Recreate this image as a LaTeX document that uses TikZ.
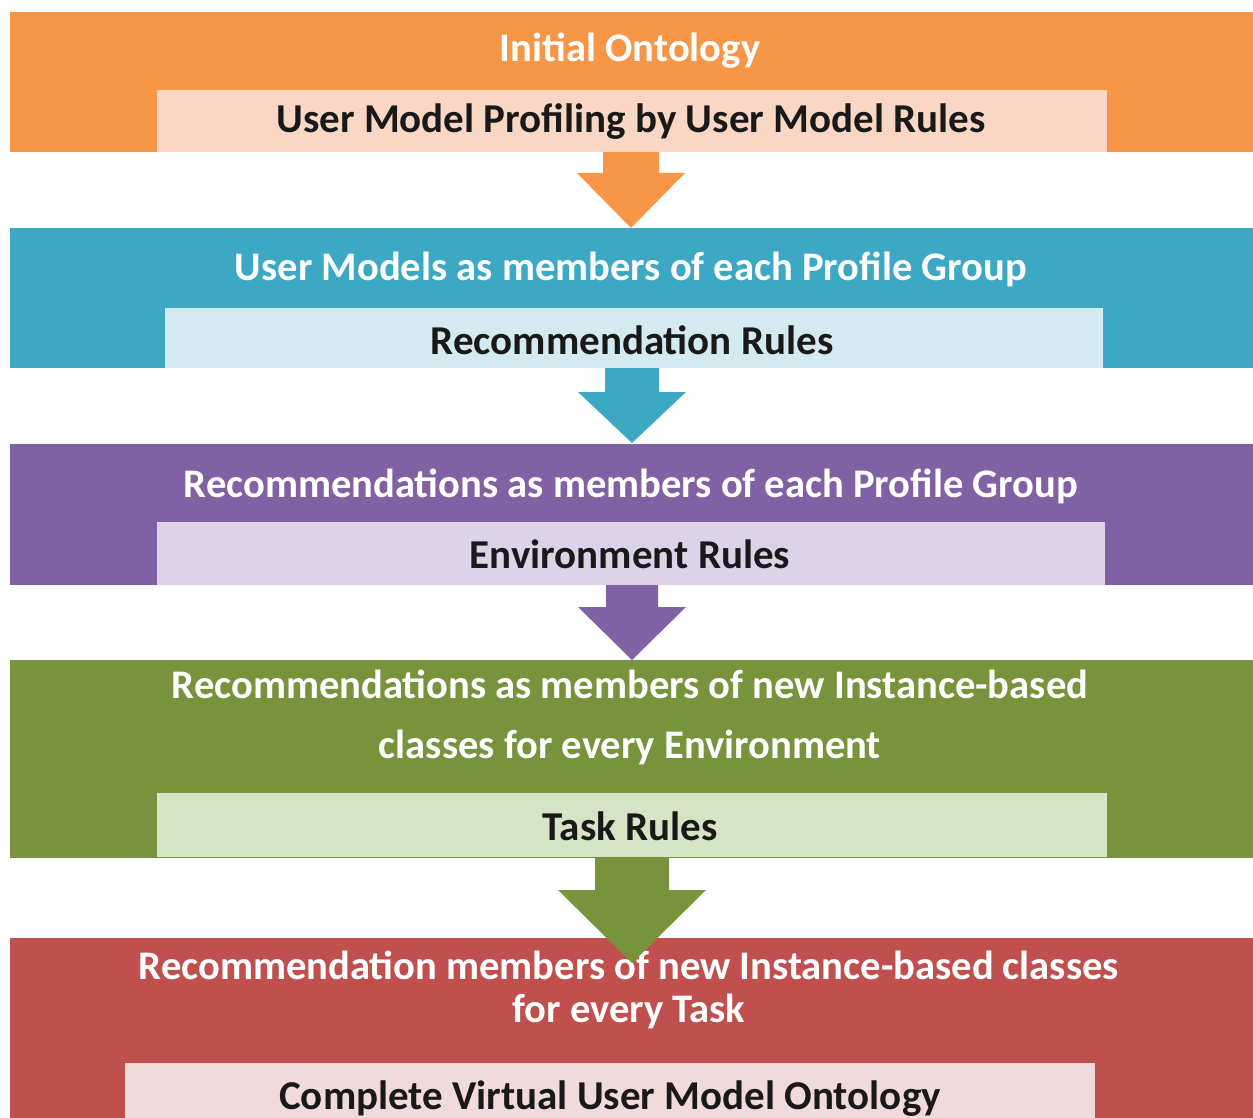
\documentclass[tikz,border=0pt]{standalone}
\usepackage{fontspec}
\setmainfont{Carlito}
\definecolor{corange}{HTML}{F79646}
\definecolor{corangeL}{HTML}{FAD7C4}
\definecolor{cteal}{HTML}{3CA8C4}
\definecolor{ctealL}{HTML}{D3EAF0}
\definecolor{cpurple}{HTML}{8062A4}
\definecolor{cpurpleL}{HTML}{DCD3E8}
\definecolor{cgreen}{HTML}{77933C}
\definecolor{cgreenL}{HTML}{D6E4C6}
\definecolor{cred}{HTML}{C0504D}
\definecolor{credL}{HTML}{F1DADA}
\tikzset{
  bandbox/.style={rectangle, anchor=north west, inner sep=0pt, outer sep=0pt, draw=none},
  titletext/.style={text=white, font=\bfseries\fontsize{40.6}{60}\selectfont, align=center, inner sep=0pt},
  innertext/.style={text=black!90, font=\bfseries\fontsize{41}{48}\selectfont, inner sep=0pt},
}
\newcommand\blockarrow[8]{% color, xc, ytop, yneck, ytip, halfshaft, halfhead, name
  \coordinate (#8) at (#2,#5);
  \fill[#1] (#2-#6,#3) -- (#2+#6,#3) -- (#2+#6,#4) -- (#2+#7,#4) -- (#8) -- (#2-#7,#4) -- (#2-#6,#4) -- cycle;
}
\begin{document}
\begin{tikzpicture}[x=1pt,y=-1pt]
\useasboundingbox (0,0) rectangle (1253,1118);
\fill[white] (0,0) rectangle (1253,1118);
% band 1
\node[bandbox, fill=corange, minimum width=1243pt, minimum height=140pt] (b1) at (10,12) {};
\node[bandbox, fill=corangeL, minimum width=950pt, minimum height=62pt] (i1) at (157,90) {};
\node[titletext] (t1) at (630,51) {Initial Ontology};
\node[innertext] (r1) at (631,122) {User Model Profiling by User Model Rules};
% band 2
\node[bandbox, fill=cteal, minimum width=1243pt, minimum height=140pt] (b2) at (10,228) {};
\node[bandbox, fill=ctealL, minimum width=938pt, minimum height=60pt] (i2) at (165,308) {};
\node[titletext] (t2) at (631,269) {User Models as members of each Profile Group};
\node[innertext] (r2) at (632,340) {Recommendation Rules};
% band 3
\node[bandbox, fill=cpurple, minimum width=1243pt, minimum height=141pt] (b3) at (10,444) {};
\node[bandbox, fill=cpurpleL, minimum width=948pt, minimum height=63pt] (i3) at (157,522) {};
\node[titletext] (t3) at (631,486) {Recommendations as members of each Profile Group};
\node[innertext] (r3) at (630,554) {Environment Rules};
% band 4
\node[bandbox, fill=cgreen, minimum width=1243pt, minimum height=198pt] (b4) at (10,660) {};
\node[bandbox, fill=cgreenL, minimum width=950pt, minimum height=64pt] (i4) at (157,793) {};
\node[titletext] (t4) at (630,717) {Recommendations as members of new Instance-based\\classes for every Environment};
\node[innertext] (r4) at (630,826) {Task Rules};
% band 5
\node[bandbox, fill=cred, minimum width=1243pt, minimum height=180pt] (b5) at (10,938) {};
\node[bandbox, fill=credL, minimum width=970pt, minimum height=56pt] (i5) at (125,1063) {};
\node[titletext, font=\bfseries\fontsize{40.6}{43}\selectfont] (t5) at (629,990) {Recommendation members of new Instance-based classes\\for every Task};
\node[innertext] (r5) at (610,1099) {Complete Virtual User Model Ontology};
% arrows
\blockarrow{corange}{631}{152}{173}{228}{28}{54}{a1}
\blockarrow{cteal}{632}{368}{392}{443}{27}{54}{a2}
\blockarrow{cpurple}{632}{585}{607}{660}{26}{54}{a3}
\blockarrow{cgreen}{632}{858}{890}{963}{37}{74}{a4}
\end{tikzpicture}
\end{document}
